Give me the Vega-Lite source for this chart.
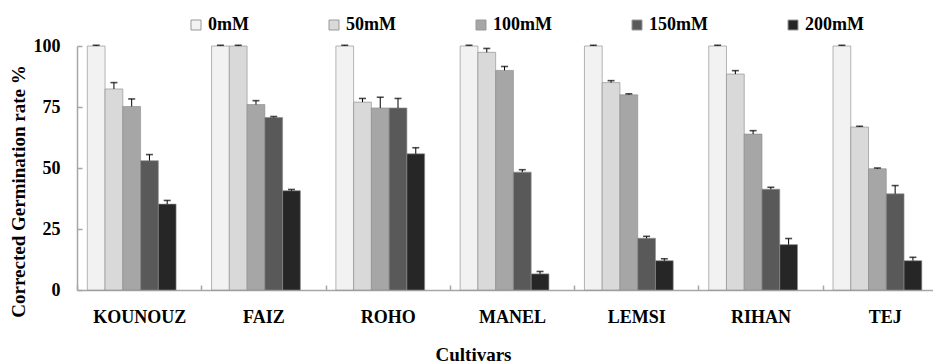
{
  "$schema": "https://vega.github.io/schema/vega-lite/v6.json",
  "autosize": "none",
  "width": 856,
  "height": 244,
  "padding": {"left": 77, "top": 46, "right": 0, "bottom": 74},
  "background": "white",
  "config": {
    "font": "Liberation Serif",
    "view": {"stroke": null},
    "axis": {"labelFont": "Liberation Serif", "titleFont": "Liberation Serif", "labelFontWeight": "bold", "titleFontWeight": "bold", "labelColor": "#000", "titleColor": "#000", "domainColor": "#a6a6a6", "tickColor": "#a6a6a6", "domainWidth": 1.5, "tickWidth": 1.5, "grid": false}
  },
  "data": {
    "values": [
      {"cultivar": "KOUNOUZ", "dose": "0mM", "v": 100, "hi": 100.3},
      {"cultivar": "KOUNOUZ", "dose": "50mM", "v": 82.4, "hi": 85},
      {"cultivar": "KOUNOUZ", "dose": "100mM", "v": 75.2, "hi": 78.3},
      {"cultivar": "KOUNOUZ", "dose": "150mM", "v": 53, "hi": 55.5},
      {"cultivar": "KOUNOUZ", "dose": "200mM", "v": 35.2, "hi": 36.7},
      {"cultivar": "FAIZ", "dose": "0mM", "v": 100, "hi": 100.3},
      {"cultivar": "FAIZ", "dose": "50mM", "v": 100, "hi": 100.3},
      {"cultivar": "FAIZ", "dose": "100mM", "v": 76, "hi": 77.6},
      {"cultivar": "FAIZ", "dose": "150mM", "v": 70.7, "hi": 71.1},
      {"cultivar": "FAIZ", "dose": "200mM", "v": 40.7, "hi": 41.2},
      {"cultivar": "ROHO", "dose": "0mM", "v": 100, "hi": 100.3},
      {"cultivar": "ROHO", "dose": "50mM", "v": 77, "hi": 78.5},
      {"cultivar": "ROHO", "dose": "100mM", "v": 74.6, "hi": 79},
      {"cultivar": "ROHO", "dose": "150mM", "v": 74.6, "hi": 78.5},
      {"cultivar": "ROHO", "dose": "200mM", "v": 55.8, "hi": 58.3},
      {"cultivar": "MANEL", "dose": "0mM", "v": 100, "hi": 100.3},
      {"cultivar": "MANEL", "dose": "50mM", "v": 97.4, "hi": 99},
      {"cultivar": "MANEL", "dose": "100mM", "v": 90, "hi": 91.6},
      {"cultivar": "MANEL", "dose": "150mM", "v": 48.3, "hi": 49.3},
      {"cultivar": "MANEL", "dose": "200mM", "v": 6.6, "hi": 7.6},
      {"cultivar": "LEMSI", "dose": "0mM", "v": 100, "hi": 100.3},
      {"cultivar": "LEMSI", "dose": "50mM", "v": 85, "hi": 85.8},
      {"cultivar": "LEMSI", "dose": "100mM", "v": 80, "hi": 80.4},
      {"cultivar": "LEMSI", "dose": "150mM", "v": 21.2, "hi": 22},
      {"cultivar": "LEMSI", "dose": "200mM", "v": 12, "hi": 12.8},
      {"cultivar": "RIHAN", "dose": "0mM", "v": 100, "hi": 100.3},
      {"cultivar": "RIHAN", "dose": "50mM", "v": 88.5, "hi": 89.9},
      {"cultivar": "RIHAN", "dose": "100mM", "v": 63.9, "hi": 65.3},
      {"cultivar": "RIHAN", "dose": "150mM", "v": 41.3, "hi": 42.1},
      {"cultivar": "RIHAN", "dose": "200mM", "v": 18.6, "hi": 21.1},
      {"cultivar": "TEJ", "dose": "0mM", "v": 100, "hi": 100.3},
      {"cultivar": "TEJ", "dose": "50mM", "v": 66.8, "hi": 67.1},
      {"cultivar": "TEJ", "dose": "100mM", "v": 49.7, "hi": 50},
      {"cultivar": "TEJ", "dose": "150mM", "v": 39.4, "hi": 42.8},
      {"cultivar": "TEJ", "dose": "200mM", "v": 12, "hi": 13.4}
    ]
  },
  "encoding": {
    "x": {
      "field": "cultivar", "type": "nominal", "sort": null,
      "scale": {"range": [0, 870], "paddingInner": 0, "paddingOuter": 0},
      "axis": {
        "title": "Cultivars", "labelAngle": 0, "labelFontSize": 18, "titleFontSize": 19,
        "tickBand": "extent", "tickSize": -5, "labelPadding": 23,
        "titleX": 396, "titleY": 70, "titleBaseline": "alphabetic", "titleAnchor": "middle", "titleAlign": "center"
      }
    },
    "xOffset": {
      "field": "dose", "type": "nominal", "sort": ["0mM", "50mM", "100mM", "150mM", "200mM"],
      "scale": {"paddingInner": 0, "paddingOuter": 1.244, "align": 0.29}
    }
  },
  "layer": [
    {
      "mark": {"type": "bar", "stroke": "#8c8c8c", "strokeWidth": 0.8, "strokeOpacity": 0.8},
      "encoding": {
        "y": {
          "field": "v", "type": "quantitative",
          "scale": {"domain": [0, 100], "nice": false},
          "axis": {
            "values": [0, 25, 50, 75, 100], "title": "Corrected Germination rate %",
            "labelFontSize": 18, "titleFontSize": 19, "tickSize": -5, "labelPadding": 22,
            "titleX": -59, "titleY": 145, "titleAngle": -90, "titleAlign": "center", "titleBaseline": "middle", "titleAnchor": "middle"
          }
        },
        "color": {
          "field": "dose", "type": "nominal", "sort": ["0mM", "50mM", "100mM", "150mM", "200mM"],
          "scale": {"domain": ["0mM", "50mM", "100mM", "150mM", "200mM"], "range": ["#f2f2f2", "#d9d9d9", "#a6a6a6", "#595959", "#262626"]},
          "legend": {
            "title": null, "orient": "none", "direction": "horizontal", "legendX": 110, "legendY": -30,
            "symbolType": "square", "symbolSize": 100, "symbolStrokeColor": "#999", "symbolStrokeWidth": 1, "symbolOpacity": 1,
            "labelFont": "Liberation Serif", "labelFontWeight": "bold", "labelFontSize": 18, "labelColor": "#000",
            "labelOffset": 3, "columnPadding": 76, "padding": 0
          }
        }
      }
    },
    {
      "mark": {"type": "rule", "color": "#000", "strokeWidth": 1},
      "encoding": {
        "y": {"field": "v", "type": "quantitative"},
        "y2": {"field": "hi"}
      }
    },
    {
      "mark": {"type": "tick", "color": "#000", "size": 7, "thickness": 1.6},
      "encoding": {
        "y": {"field": "hi", "type": "quantitative"}
      }
    }
  ]
}
